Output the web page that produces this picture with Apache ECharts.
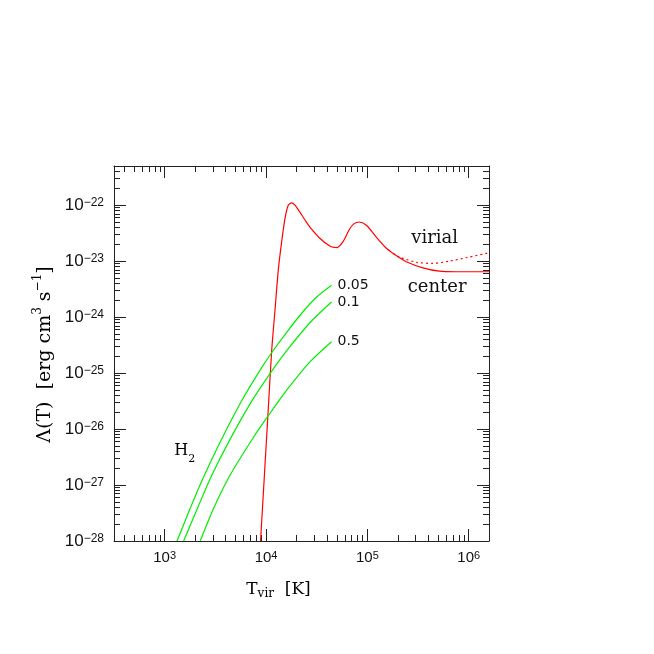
<!DOCTYPE html>
<html><head><meta charset="utf-8">
<script src="https://cdn.jsdelivr.net/npm/echarts@6/dist/echarts.min.js"></script>
<style>html,body{margin:0;padding:0;background:#fff}#c{width:654px;height:654px}</style>
</head><body><div id="c"></div>
<script>
// ---- data (T in K, Lambda in erg cm^3 s^-1) ----
const centerT = [8830, 10510, 11380, 12260, 13210, 14260, 15380, 16560, 17910, 19280, 21580, 24150, 27100, 33960, 42560, 49550, 57540, 66990, 74130, 82600, 97720, 122460, 153800, 178600, 208000, 241500, 352400, 514000, 750000, 1585000];
const centerL = [1e-28, 2.19e-26, 2.57e-25, 1.33e-24, 6.92e-24, 2.21e-23, 5.75e-23, 1.0e-22, 1.096e-22, 1.0e-22, 7.5e-23, 5.5e-23, 4.07e-23, 2.57e-23, 1.86e-23, 1.74e-23, 2.24e-23, 3.8e-23, 4.68e-23, 5.01e-23, 4.37e-23, 2.69e-23, 1.70e-23, 1.38e-23, 1.15e-23, 9.77e-24, 7.59e-24, 6.61e-24, 6.46e-24, 6.46e-24];
const virialT = [178600, 208900, 303400, 441600, 645700, 939700, 1585000];
const virialL = [1.38e-23, 1.175e-23, 9.55e-24, 9.12e-24, 1.0e-23, 1.15e-23, 1.41e-23];
const h2T_005 = [1324, 1791, 2415, 3532, 5768, 8710, 11220, 15850, 23280, 31620, 44260];
const h2L_005 = [1e-28, 3.89e-28, 1.38e-27, 5.89e-27, 3.24e-26, 1.12e-25, 2.24e-25, 5.25e-25, 1.26e-24, 2.29e-24, 3.72e-24];
const h2T_01 = [1538, 2158, 2924, 4426, 7228, 11040, 16000, 27100, 44260];
const h2L_01 = [1e-28, 4.27e-28, 1.51e-27, 6.61e-27, 3.16e-26, 1.0e-25, 2.51e-25, 7.94e-25, 1.86e-24];
const h2T_05 = [2244, 3034, 4426, 7499, 10350, 13210, 17220, 27100, 44260];
const h2L_05 = [1e-28, 3.8e-28, 1.51e-27, 7.08e-27, 1.66e-26, 3.09e-26, 5.89e-26, 1.585e-25, 3.63e-25];
const h2Labels = ['0.05', '0.1', '0.5'];
const xMajorTicks = [1e3, 1e4, 1e5, 1e6];
const yMajorExp = [-28, -27, -26, -25, -24, -23, -22];   // tick labels 10^n

const X_MIN = Math.pow(10, 2.5), X_MAX = Math.pow(10, 6.2);
const Y_MIN = -28, Y_MAX = -21.3;   // y axis in log10(Lambda)

const xMinor = [];
for (let n = 2; n <= 6; n++) for (let k = 2; k <= 9; k++) {
  const v = k * Math.pow(10, n);
  if (v >= X_MIN && v <= X_MAX) xMinor.push(v);
}
const yMinor = [];
for (let n = -28; n <= -22; n++) for (let k = 2; k <= 9; k++) {
  const v = n + Math.log10(k);
  if (v >= Y_MIN && v <= Y_MAX) yMinor.push(v);
}
const zip = (a, b) => a.map((v, i) => [v, Math.log10(b[i])]);

const AX = '#222';
function axis(kind, pos, ticks, len, showLine, label) {
  const o = {
    type: kind === 'x' ? 'log' : 'value', position: pos,
    min: kind === 'x' ? X_MIN : Y_MIN, max: kind === 'x' ? X_MAX : Y_MAX,
    axisLine: { show: showLine, onZero: false, lineStyle: { color: AX, width: 1 } },
    axisTick: { show: true, inside: true, length: len, customValues: ticks, lineStyle: { color: AX, width: 1 } },
    axisLabel: { show: false },
    splitLine: { show: false }, minorTick: { show: false }, minorSplitLine: { show: false }
  };
  if (kind === 'x') o.logBase = 10;
  if (label) o.axisLabel = label;
  return o;
}
const xLabel = {
  show: true, customValues: xMajorTicks, margin: 9,
  formatter: v => '{b|10}{s|' + Math.round(Math.log10(v)) + '}',
  rich: {
    b: { fontFamily: 'Liberation Sans', fontSize: 15, color: '#111' },
    s: { fontFamily: 'Liberation Sans', fontSize: 11, color: '#111', padding: [0, 0, 5, 0] }
  }
};
const yLabel = {
  show: true, customValues: yMajorExp, margin: 10,
  formatter: v => '{b|10}{s|\u2212' + Math.abs(Math.round(v)) + '}',
  rich: {
    b: { fontFamily: 'Liberation Sans', fontSize: 17, color: '#111' },
    s: { fontFamily: 'Liberation Sans', fontSize: 12, color: '#111', padding: [0, 0, 5, 0] }
  }
};

const lineBase = { type: 'line', showSymbol: false, symbol: 'none', smooth: 0.25, animation: false, xAxisIndex: 0, yAxisIndex: 0 };
const green = '#00ee00';
function h2Series(T, L, lab) {
  return Object.assign({}, lineBase, {
    name: 'H2 ' + lab, data: zip(T, L),
    lineStyle: { color: green, width: 1.2 }, itemStyle: { color: green },
    endLabel: { show: true, formatter: lab, distance: 6, color: '#111', fontFamily: 'DejaVu Sans', fontSize: 14 }
  });
}

const serif = 'DejaVu Serif';
const option = {
  backgroundColor: '#fff',
  animation: false,
  grid: { left: 114, right: 165, top: 166, bottom: 113, containLabel: false },
  xAxis: [
    axis('x', 'bottom', xMajorTicks, 12, true, xLabel),
    axis('x', 'bottom', xMinor, 6, false),
    axis('x', 'top', xMajorTicks, 12, true),
    axis('x', 'top', xMinor, 6, false)
  ],
  yAxis: [
    axis('y', 'left', yMajorExp, 12, true, yLabel),
    axis('y', 'left', yMinor, 6, false),
    axis('y', 'right', yMajorExp, 12, true),
    axis('y', 'right', yMinor, 6, false)
  ],
  series: [
    Object.assign({}, lineBase, { name: 'center', data: zip(centerT, centerL), lineStyle: { color: '#ff0000', width: 1.2 }, itemStyle: { color: '#ff0000' } }),
    Object.assign({}, lineBase, { name: 'virial', data: zip(virialT, virialL), lineStyle: { color: '#ff0000', width: 1.2, type: [2, 3] }, itemStyle: { color: '#ff0000' } }),
    h2Series(h2T_005, h2L_005, h2Labels[0]),
    h2Series(h2T_01, h2L_01, h2Labels[1]),
    h2Series(h2T_05, h2L_05, h2Labels[2])
  ],
  graphic: [
    { type: 'text', x: 434.7, y: 238.8, style: { text: 'virial', font: '18px "DejaVu Serif"', fill: '#111', align: 'center', verticalAlign: 'middle' } },
    { type: 'text', x: 437.2, y: 287.8, style: { text: 'center', font: '18px "DejaVu Serif"', fill: '#111', align: 'center', verticalAlign: 'middle' } },
    { type: 'text', x: 174.3, y: 451.2, style: { text: '{m|H}{d|2}', align: 'left', verticalAlign: 'middle',
        rich: { m: { fontFamily: serif, fontSize: 16, color: '#111' }, d: { fontFamily: serif, fontSize: 11, color: '#111', padding: [15, 0, 0, 0] } } } },
    { type: 'text', x: 278.5, y: 589.1, style: { text: '{m|T}{d|vir}{m|  [K]}', align: 'center', verticalAlign: 'middle',
        rich: { m: { fontFamily: serif, fontSize: 17, color: '#111' }, d: { fontFamily: serif, fontSize: 12, color: '#111', padding: [10, 0, 0, 0] } } } },
    { type: 'text', x: 45.4, y: 354.5, rotation: Math.PI / 2, style: { text: '{m|\u039B(T)  [erg cm}{u|3}{m| s}{u|\u22121}{m|]}', align: 'center', verticalAlign: 'middle',
        rich: { m: { fontFamily: serif, fontSize: 19, color: '#111' }, u: { fontFamily: serif, fontSize: 12, color: '#111', padding: [0, 0, 15, 0] } } } }
  ]
};
const chart = echarts.init(document.getElementById('c'), null, { renderer: 'canvas' });
chart.setOption(option);
</script>
</body></html>
